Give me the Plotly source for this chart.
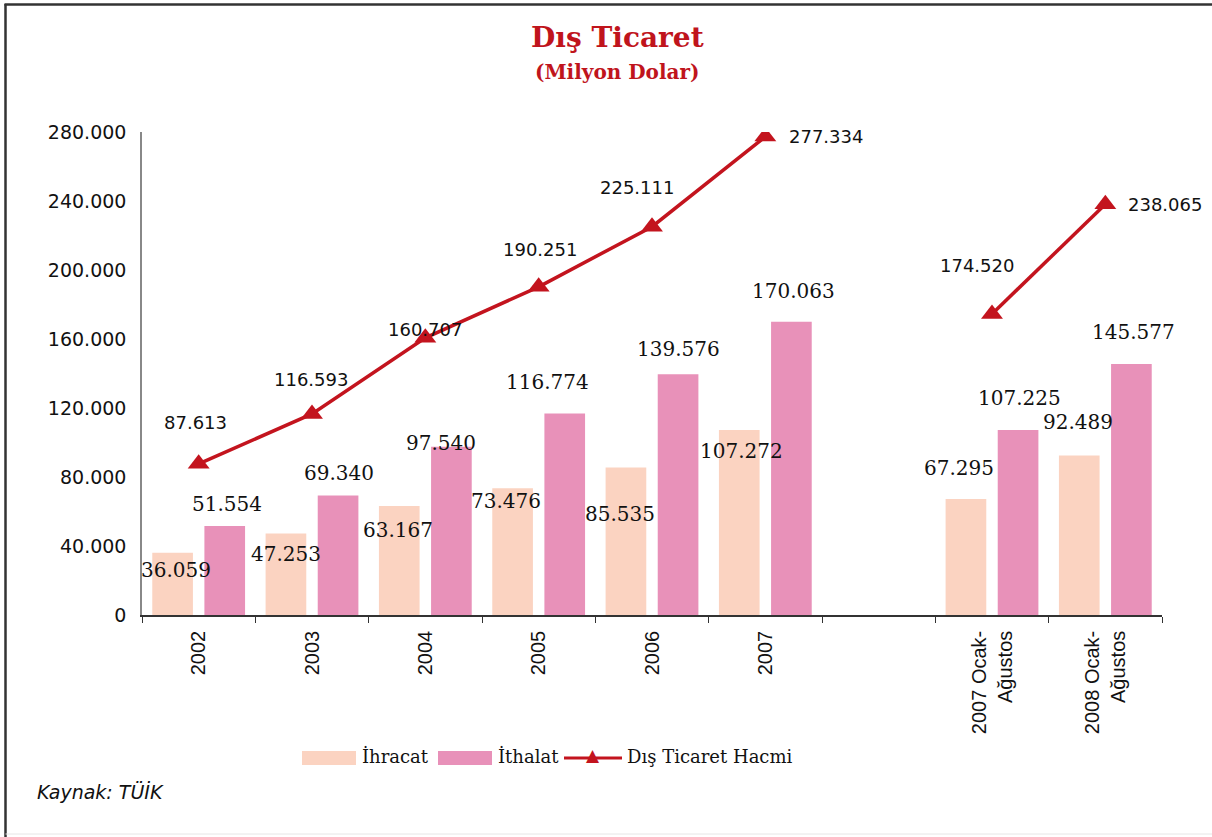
import plotly.graph_objects as go

# ---------------- data ----------------
categories = ["2002", "2003", "2004", "2005", "2006", "2007", " ",
              "2007 Ocak-<br>Ağustos", "2008 Ocak-<br>Ağustos"]
ihracat = [36059, 47253, 63167, 73476, 85535, 107272, None, 67295, 92489]
ithalat = [51554, 69340, 97540, 116774, 139576, 170063, None, 107225, 145577]
hacim = [87613, 116593, 160707, 190251, 225111, 277334, None, 174520, 238065]
y_ticks = [0, 40000, 80000, 120000, 160000, 200000, 240000, 280000]

# ---------------- styles ----------------
C_IHR = "#FBD3C1"
C_ITH = "#E891B9"
C_LINE = "#C3141E"
C_TITLE = "#C0141C"

# label offsets (pixels) relative to category centre / value
ihr_dx = [-23, -26, -27, -33, -32, -24, 0, -33, -27]
ihr_dy = [-17, -21, -24, -13, -47, -21, 0, 31, 33]
ith_dx = [28, 27, 16, 9, 26, 28, 0, 27, 28]
ith_dy = [22, 22, 4, 32, 25, 31, 0, 32, 32]
hac_dx = [-3, -1, 0, 1, -15, 61, 0, -15, 60]
hac_dy = [41, 34, 8, 37, 39, 0, 0, 48, 0]

# page geometry (body margin removed by the post script)
OFF = 0
PAGE_W, PAGE_H = 1212, 837
W, H = PAGE_W - OFF, PAGE_H - OFF
PL, PR, PT, PB = 142, 1162, 132, 615          # plot area in page pixels
L, R, T, B = PL - OFF, PAGE_W - PR, PT - OFF, PAGE_H - PB
PW, PH = PR - PL, PB - PT


def px(x):
    return (x - PL) / PW


def py(y):
    return (PB - y) / PH


def fmt(v):
    return f"{v:,}".replace(",", ".")


fig = go.Figure()
fig.add_trace(go.Bar(x=categories, y=ihracat, name="İhracat",
                     marker=dict(color=C_IHR, line=dict(width=0))))
fig.add_trace(go.Bar(x=categories, y=ithalat, name="İthalat",
                     marker=dict(color=C_ITH, line=dict(width=0))))
fig.add_trace(go.Scatter(x=categories, y=hacim, name="Dış Ticaret Hacmi",
                         mode="lines+markers", connectgaps=False,
                         line=dict(color=C_LINE, width=3.5),
                         marker=dict(symbol="triangle-up", size=19, color=C_LINE)))

ann = []
serif_lbl = dict(family="DejaVu Serif", size=20, color="#111111")
sans_lbl = dict(family="DejaVu Sans", size=18, color="#111111")
for i, c in enumerate(categories):
    # annotations on a category axis use the category's serial number
    if ihracat[i] is not None:
        ann.append(dict(x=i, y=ihracat[i], xref="x", yref="y", text=fmt(ihracat[i]),
                        showarrow=False, xshift=ihr_dx[i], yshift=ihr_dy[i],
                        font=serif_lbl, xanchor="center", yanchor="middle"))
    if ithalat[i] is not None:
        ann.append(dict(x=i, y=ithalat[i], xref="x", yref="y", text=fmt(ithalat[i]),
                        showarrow=False, xshift=ith_dx[i], yshift=ith_dy[i],
                        font=serif_lbl, xanchor="center", yanchor="middle"))
    if hacim[i] is not None:
        ann.append(dict(x=i, y=hacim[i], xref="x", yref="y", text=fmt(hacim[i]),
                        showarrow=False, xshift=hac_dx[i], yshift=hac_dy[i],
                        font=sans_lbl, xanchor="center", yanchor="middle"))

# titles
ann.append(dict(x=px(617), y=py(37), xref="paper", yref="paper", showarrow=False,
                text="<b>Dış Ticaret</b>", font=dict(family="DejaVu Serif", size=28, color=C_TITLE),
                xanchor="center", yanchor="middle"))
ann.append(dict(x=px(617), y=py(72), xref="paper", yref="paper", showarrow=False,
                text="<b>(Milyon Dolar)</b>", font=dict(family="DejaVu Serif", size=20, color=C_TITLE),
                xanchor="center", yanchor="middle"))
# source
ann.append(dict(x=px(35), y=py(792), xref="paper", yref="paper", showarrow=False,
                text="<i>Kaynak: TÜİK</i>", font=dict(family="DejaVu Sans", size=19, color="#111111"),
                xanchor="left", yanchor="middle"))

# custom legend
leg_font = dict(family="DejaVu Serif", size=18, color="#111111")
shapes = []
shapes.append(dict(type="rect", xref="paper", yref="paper", x0=px(302), x1=px(356),
                   y0=py(765), y1=py(751), fillcolor=C_IHR, line=dict(width=0)))
ann.append(dict(x=px(360), y=py(756), xref="paper", yref="paper", showarrow=False,
                text="İhracat", font=leg_font, xanchor="left", yanchor="middle"))
shapes.append(dict(type="rect", xref="paper", yref="paper", x0=px(438), x1=px(492),
                   y0=py(765), y1=py(751), fillcolor=C_ITH, line=dict(width=0)))
ann.append(dict(x=px(496), y=py(756), xref="paper", yref="paper", showarrow=False,
                text="İthalat", font=leg_font, xanchor="left", yanchor="middle"))
shapes.append(dict(type="line", xref="paper", yref="paper", x0=px(564), x1=px(622),
                   y0=py(758), y1=py(758), line=dict(color=C_LINE, width=3)))
ann.append(dict(x=px(593), y=py(755), xref="paper", yref="paper", showarrow=False,
                text="▲", font=dict(family="DejaVu Sans", size=17, color=C_LINE),
                xanchor="center", yanchor="middle"))
ann.append(dict(x=px(625), y=py(756), xref="paper", yref="paper", showarrow=False,
                text="Dış Ticaret Hacmi", font=leg_font, xanchor="left", yanchor="middle"))

# frame
shapes.append(dict(type="line", xref="paper", yref="paper", x0=px(5.5), x1=px(5.5),
                   y0=py(4), y1=py(837), line=dict(color="#333333", width=2.5)))
shapes.append(dict(type="line", xref="paper", yref="paper", x0=px(4.5), x1=px(1212),
                   y0=py(4.5), y1=py(4.5), line=dict(color="#333333", width=2.5)))
shapes.append(dict(type="line", xref="paper", yref="paper", x0=px(5.5), x1=px(1212),
                   y0=py(834), y1=py(834), line=dict(color="#E6E6E6", width=1)))

fig.update_layout(
    width=W, height=H,
    margin=dict(l=L, r=R, t=T, b=B),
    paper_bgcolor="white", plot_bgcolor="white",
    barmode="group", bargap=0.08, bargroupgap=0.22,
    showlegend=False, hovermode=False,
    annotations=ann, shapes=shapes,
)
fig.update_xaxes(
    type="category", categoryorder="array", categoryarray=categories,
    range=[-0.5, len(categories) - 0.5], autorange=False,
    tickson="boundaries", ticks="outside", ticklen=6, tickcolor="#333333",
    showline=True, linecolor="#333333", linewidth=1.5,
    tickangle=-90, ticklabelstandoff=6,
    tickfont=dict(family="Liberation Sans", size=20, color="#111111"),
    showgrid=False, zeroline=False,
)
fig.update_yaxes(
    range=[0, 280000], autorange=False, tickvals=y_ticks, ticktext=[fmt(v) for v in y_ticks],
    showline=True, linecolor="#888888", linewidth=1.5,
    ticks="", ticklabelstandoff=10,
    tickfont=dict(family="DejaVu Sans", size=19, color="#111111"),
    showgrid=False, zeroline=False,
)

fig.write_html("out.html",
               config={"displayModeBar": False},
               post_script="document.body.style.margin='0px';"
                           "document.body.style.overflow='hidden';")
